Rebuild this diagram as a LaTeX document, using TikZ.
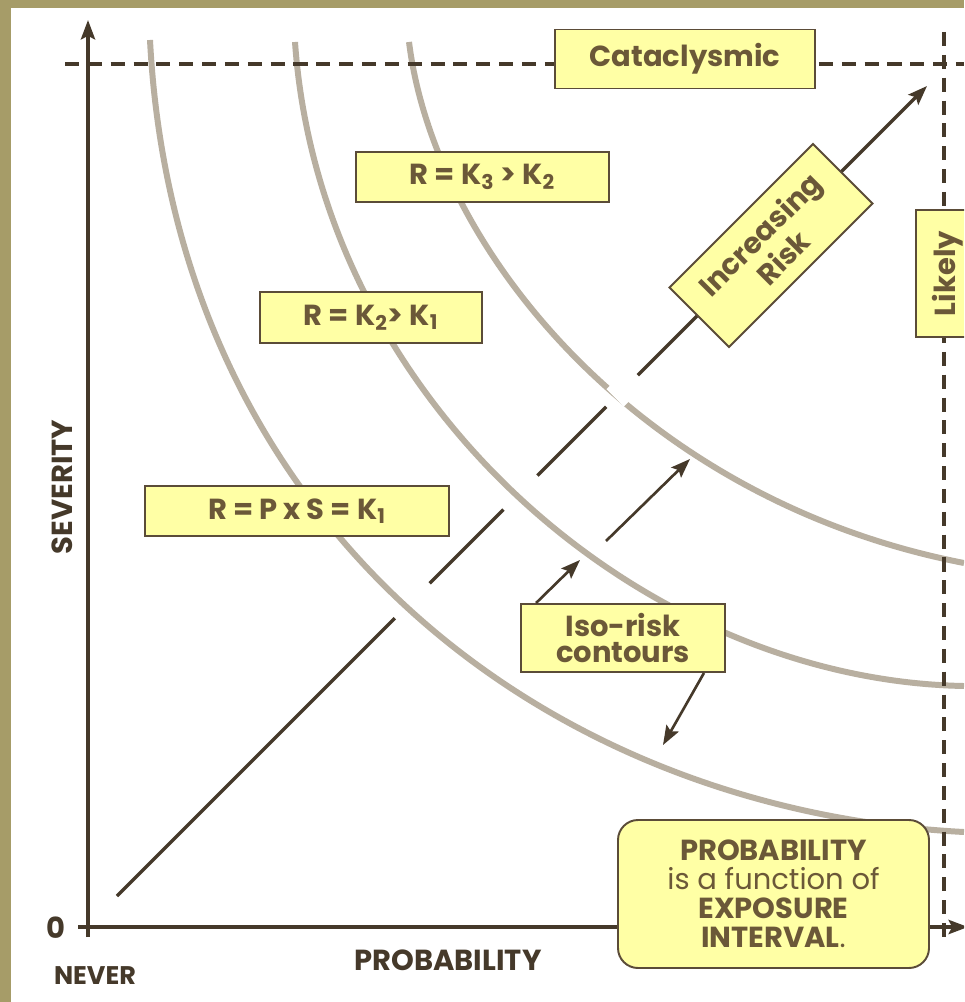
\documentclass[tikz,border=0pt]{standalone}
\usepackage{fontspec}
\setmainfont{Poppins}
\usetikzlibrary{arrows.meta,calc}

\definecolor{khaki}{HTML}{A69C68}
\definecolor{ink}{HTML}{45392A}
\definecolor{lbl}{HTML}{6B5838}
\definecolor{pad}{HTML}{FFFFA5}
\definecolor{edge}{HTML}{5B4C38}
\definecolor{isogray}{HTML}{B8AFA0}

\begin{document}
\begin{tikzpicture}[x=0.2mm, y=-0.2mm,
every node/.style={font=\bfseries\fontsize{16.5}{15}\selectfont, text=lbl, inner sep=0pt},
box/.style={draw=edge, fill=pad, line width=1.1pt, align=center},
contour/.style={draw=isogray, line width=3.4pt},
axis/.style={draw=ink, line width=2.2pt},
guide/.style={draw=ink, line width=2.2pt, dash pattern=on 8pt off 5pt},
diag/.style={draw=ink, line width=1.9pt},
pointer/.style={draw=ink, line width=1.5pt},
tip/.style={-{Stealth[length=11pt,width=8pt,inset=2pt]}}
]
\clip (0,0) rectangle (964,1002);
\fill[khaki] (0,0) rectangle (964,1002);
\fill[white] (11,8) rectangle (964,1002);

% iso-risk contours R = K1, K2, K3
\draw[contour] (150,40) .. controls (175,520) and (540,810) .. (964,832);
\draw[contour] (295,42) .. controls (320,400) and (640,680) .. (964,686);
\draw[contour] (409,42) .. controls (435,250) and (640,500) .. (964,563);

% limits
\draw[guide] (65,64) -- (964,64);
\draw[guide] (944,32) -- (944,940);

% axes
\coordinate (ybot) at (88,937);
\coordinate (ytop) at (88,20);
\coordinate (xlft) at (78,927);
\coordinate (xrgt) at (968,927);
\draw[axis,tip] (ybot) -- (ytop);
\draw[axis,tip] (xlft) -- (xrgt);

% increasing risk, broken where it meets the contours
\coordinate (lo) at (117,896);
\coordinate (hi) at (927,86);
\foreach \a/\b in {0/0.343, 0.386/0.477, 0.519/0.604}
    \draw[diag] ($(lo)!\a!(hi)$) -- ($(lo)!\b!(hi)$);
\draw[diag,tip] ($(lo)!0.643!(hi)$) -- (hi);
\draw[white, line width=14pt] ($(lo)!0.615!(hi)$) -- ($(lo)!0.632!(hi)$);

\coordinate (p1) at (580,560);
\coordinate (p2) at (663,745);
\coordinate (q1) at (606,541);
\coordinate (q2) at (690,459);
\draw[pointer,tip] (q1) -- (q2);

\node[box, minimum width=52mm, minimum height=11.8mm] (cata) at (685,59) {Cataclysmic};
\node[box, rotate=90, minimum width=25.4mm, minimum height=12.8mm] (likely) at (948,273.5) {Likely};
\node[box, rotate=45, minimum width=40.6mm, minimum height=16.8mm] (risk) at (771,245.5) {Increasing\\Risk};
\node[box, minimum width=50.6mm, minimum height=10mm] (kthree) at (482.5,177) {R = K\textsubscript{3} > K\textsubscript{2}};
\node[box, minimum width=44.4mm, minimum height=10.2mm] (ktwo) at (371,317.5) {R = K\textsubscript{2}> K\textsubscript{1}};
\node[box, minimum width=60.8mm, minimum height=10mm] (kone) at (297,511) {R = P x S = K\textsubscript{1}};
\node[box, minimum width=40.8mm, minimum height=13.6mm] (iso) at (623,638) {Iso-risk\\contours};
\draw[pointer,tip] ([xshift=3.2mm]iso.north west) -- (p1);
\draw[pointer,tip] ([xshift=-4.4mm]iso.south east) -- (p2);

\node[box, rounded corners=4mm, minimum width=62.2mm, minimum height=29.6mm,
      font=\bfseries\fontsize{16.5}{16.5}\selectfont] (expo) at (773.5,894)
     {PROBABILITY\\{\mdseries is a function of}\\EXPOSURE\\INTERVAL{\mdseries .}};

% axis labels
\node[text=ink] (zero) at (56,928) {0};
\node[text=ink, font=\bfseries\fontsize{14.5}{15}\selectfont] (never) at (95,976) {NEVER};
\node[text=ink] (prob) at (448,960) {PROBABILITY};
\node[text=ink, rotate=90] (sev) at (62,487) {SEVERITY};
\end{tikzpicture}
\end{document}
